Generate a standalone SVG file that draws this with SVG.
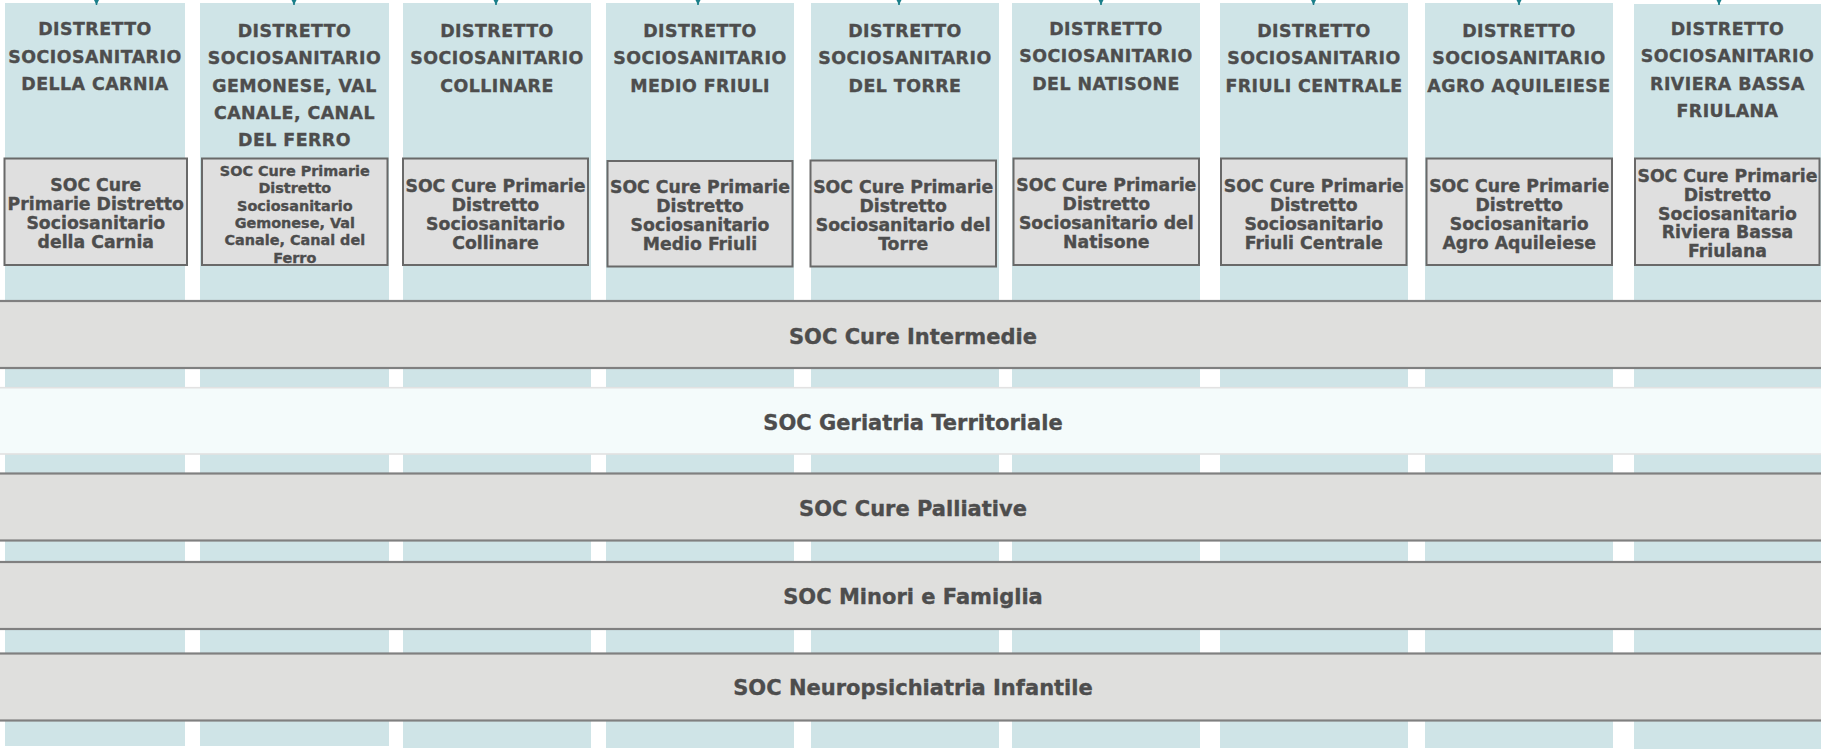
<svg xmlns="http://www.w3.org/2000/svg" width="1821" height="751" viewBox="0 0 1821 751">
<style>
.col{fill:#cfe4e7}
.box{fill:#dfdfdf;stroke:#696969;stroke-width:2}
.bar{fill:#dfdfdd;stroke:#808080;stroke-width:2.2}
.bar2{fill:#f4fbfb;stroke:#e2e2e2;stroke-width:1.6}
text{font-family:"DejaVu Sans","Verdana",sans-serif;font-weight:bold;fill:#4d4d4d;stroke:#4d4d4d;stroke-width:0.35;text-anchor:middle}
.h{font-size:17.4px;letter-spacing:0.45px}
.b{font-size:17.3px}
.bs{font-size:14.4px}
.t{font-size:21px}
.conn{stroke:#1b7f8a;stroke-width:1.5;fill:none}
</style>
<defs>
<marker id="ah" viewBox="0 0 10 10" refX="10" refY="5" markerUnits="userSpaceOnUse" markerWidth="6" markerHeight="6" orient="auto">
<path d="M0,0 L10,5 L0,10 z" fill="#1b7f8a"/>
</marker>
</defs>
<rect width="1821" height="751" fill="#ffffff"/>

<g id="columns">
<rect class="col" x="5" y="3" width="180" height="743"/>
<rect class="col" x="200" y="3" width="189" height="743"/>
<rect class="col" x="403" y="3" width="188" height="745"/>
<rect class="col" x="606" y="3" width="188" height="745"/>
<rect class="col" x="811" y="3" width="188" height="745"/>
<rect class="col" x="1012" y="3" width="188" height="745"/>
<rect class="col" x="1220" y="3" width="188" height="745"/>
<rect class="col" x="1425" y="3" width="188" height="745"/>
<rect class="col" x="1634" y="4" width="187" height="745"/>
</g>

<g id="connectors">
<path class="conn" d="M96.5,-10 V5" marker-end="url(#ah)"/>
<path class="conn" d="M294,-10 V5" marker-end="url(#ah)"/>
<path class="conn" d="M496,-10 V5" marker-end="url(#ah)"/>
<path class="conn" d="M698,-10 V5" marker-end="url(#ah)"/>
<path class="conn" d="M899,-10 V5" marker-end="url(#ah)"/>
<path class="conn" d="M1101,-10 V5" marker-end="url(#ah)"/>
<path class="conn" d="M1313.5,-10 V5" marker-end="url(#ah)"/>
<path class="conn" d="M1519,-10 V5" marker-end="url(#ah)"/>
<path class="conn" d="M1719,-10 V5" marker-end="url(#ah)"/>
</g>

<g id="d1">
<text class="h" x="95" y="35.2">DISTRETTO</text>
<text class="h" x="95" y="62.7">SOCIOSANITARIO</text>
<text class="h" x="95" y="90.2">DELLA CARNIA</text>
</g>
<g id="d2">
<text class="h" x="294.5" y="36.7">DISTRETTO</text>
<text class="h" x="294.5" y="64.1">SOCIOSANITARIO</text>
<text class="h" x="294.5" y="91.5">GEMONESE, VAL</text>
<text class="h" x="294.5" y="118.9">CANALE, CANAL</text>
<text class="h" x="294.5" y="146.3">DEL FERRO</text>
</g>
<g id="d3">
<text class="h" x="497" y="36.7">DISTRETTO</text>
<text class="h" x="497" y="64.1">SOCIOSANITARIO</text>
<text class="h" x="497" y="91.5">COLLINARE</text>
</g>
<g id="d4">
<text class="h" x="700" y="36.7">DISTRETTO</text>
<text class="h" x="700" y="64.1">SOCIOSANITARIO</text>
<text class="h" x="700" y="91.5">MEDIO FRIULI</text>
</g>
<g id="d5">
<text class="h" x="905" y="36.7">DISTRETTO</text>
<text class="h" x="905" y="64.1">SOCIOSANITARIO</text>
<text class="h" x="905" y="91.5">DEL TORRE</text>
</g>
<g id="d6">
<text class="h" x="1106" y="35">DISTRETTO</text>
<text class="h" x="1106" y="62.4">SOCIOSANITARIO</text>
<text class="h" x="1106" y="89.8">DEL NATISONE</text>
</g>
<g id="d7">
<text class="h" x="1314" y="37">DISTRETTO</text>
<text class="h" x="1314" y="64.4">SOCIOSANITARIO</text>
<text class="h" x="1314" y="91.8">FRIULI CENTRALE</text>
</g>
<g id="d8">
<text class="h" x="1519" y="37">DISTRETTO</text>
<text class="h" x="1519" y="64.4">SOCIOSANITARIO</text>
<text class="h" x="1519" y="91.8">AGRO AQUILEIESE</text>
</g>
<g id="d9">
<text class="h" x="1727.5" y="35">DISTRETTO</text>
<text class="h" x="1727.5" y="62.4">SOCIOSANITARIO</text>
<text class="h" x="1727.5" y="89.8">RIVIERA BASSA</text>
<text class="h" x="1727.5" y="117.2">FRIULANA</text>
</g>

<g id="soc1">
<rect class="box" x="4.5" y="158.5" width="182.5" height="106.5"/>
<text class="b" x="95.8" y="191">SOC Cure</text>
<text class="b" x="95.8" y="210">Primarie Distretto</text>
<text class="b" x="95.8" y="229">Sociosanitario</text>
<text class="b" x="95.8" y="248">della Carnia</text>
</g>
<g id="soc2">
<rect class="box" x="202" y="158.5" width="185.5" height="106.5"/>
<text class="bs" x="294.8" y="176">SOC Cure Primarie</text>
<text class="bs" x="294.8" y="193.3">Distretto</text>
<text class="bs" x="294.8" y="210.6">Sociosanitario</text>
<text class="bs" x="294.8" y="227.9">Gemonese, Val</text>
<text class="bs" x="294.8" y="245.2">Canale, Canal del</text>
<text class="bs" x="294.8" y="262.5">Ferro</text>
</g>
<g id="soc3">
<rect class="box" x="403" y="158.5" width="185" height="106.5"/>
<text class="b" x="495.5" y="191.5">SOC Cure Primarie</text>
<text class="b" x="495.5" y="210.5">Distretto</text>
<text class="b" x="495.5" y="229.5">Sociosanitario</text>
<text class="b" x="495.5" y="248.5">Collinare</text>
</g>
<g id="soc4">
<rect class="box" x="607.5" y="161" width="185" height="105.5"/>
<text class="b" x="700" y="193.3">SOC Cure Primarie</text>
<text class="b" x="700" y="212.3">Distretto</text>
<text class="b" x="700" y="231.3">Sociosanitario</text>
<text class="b" x="700" y="250.3">Medio Friuli</text>
</g>
<g id="soc5">
<rect class="box" x="810.5" y="160.5" width="185.5" height="106"/>
<text class="b" x="903.2" y="193.3">SOC Cure Primarie</text>
<text class="b" x="903.2" y="212.3">Distretto</text>
<text class="b" x="903.2" y="231.3">Sociosanitario del</text>
<text class="b" x="903.2" y="250.3">Torre</text>
</g>
<g id="soc6">
<rect class="box" x="1013.5" y="158.5" width="185.5" height="106.5"/>
<text class="b" x="1106.3" y="191">SOC Cure Primarie</text>
<text class="b" x="1106.3" y="210">Distretto</text>
<text class="b" x="1106.3" y="229">Sociosanitario del</text>
<text class="b" x="1106.3" y="248">Natisone</text>
</g>
<g id="soc7">
<rect class="box" x="1221" y="158.5" width="185.5" height="106.5"/>
<text class="b" x="1313.8" y="191.5">SOC Cure Primarie</text>
<text class="b" x="1313.8" y="210.5">Distretto</text>
<text class="b" x="1313.8" y="229.5">Sociosanitario</text>
<text class="b" x="1313.8" y="248.5">Friuli Centrale</text>
</g>
<g id="soc8">
<rect class="box" x="1426.5" y="158.5" width="185.5" height="106.5"/>
<text class="b" x="1519.2" y="191.5">SOC Cure Primarie</text>
<text class="b" x="1519.2" y="210.5">Distretto</text>
<text class="b" x="1519.2" y="229.5">Sociosanitario</text>
<text class="b" x="1519.2" y="248.5">Agro Aquileiese</text>
</g>
<g id="soc9">
<rect class="box" x="1635" y="158.5" width="184.5" height="106.5"/>
<text class="b" x="1727.5" y="181.7">SOC Cure Primarie</text>
<text class="b" x="1727.5" y="200.6">Distretto</text>
<text class="b" x="1727.5" y="219.5">Sociosanitario</text>
<text class="b" x="1727.5" y="238.4">Riviera Bassa</text>
<text class="b" x="1727.5" y="257.3">Friulana</text>
</g>

<g id="cure-intermedie">
<rect class="bar" x="-3" y="301" width="1827" height="67"/>
<text class="t" x="913" y="344">SOC Cure Intermedie</text>
</g>
<g id="geriatria">
<rect class="bar2" x="-3" y="387.7" width="1827" height="66.3"/>
<text class="t" x="913" y="430">SOC Geriatria Territoriale</text>
</g>
<g id="cure-palliative">
<rect class="bar" x="-3" y="473.5" width="1827" height="67"/>
<text class="t" x="913" y="515.5">SOC Cure Palliative</text>
</g>
<g id="minori">
<rect class="bar" x="-3" y="562" width="1827" height="67"/>
<text class="t" x="913" y="604">SOC Minori e Famiglia</text>
</g>
<g id="neuropsichiatria">
<rect class="bar" x="-3" y="653.5" width="1827" height="67"/>
<text class="t" x="913" y="695">SOC Neuropsichiatria Infantile</text>
</g>
</svg>
